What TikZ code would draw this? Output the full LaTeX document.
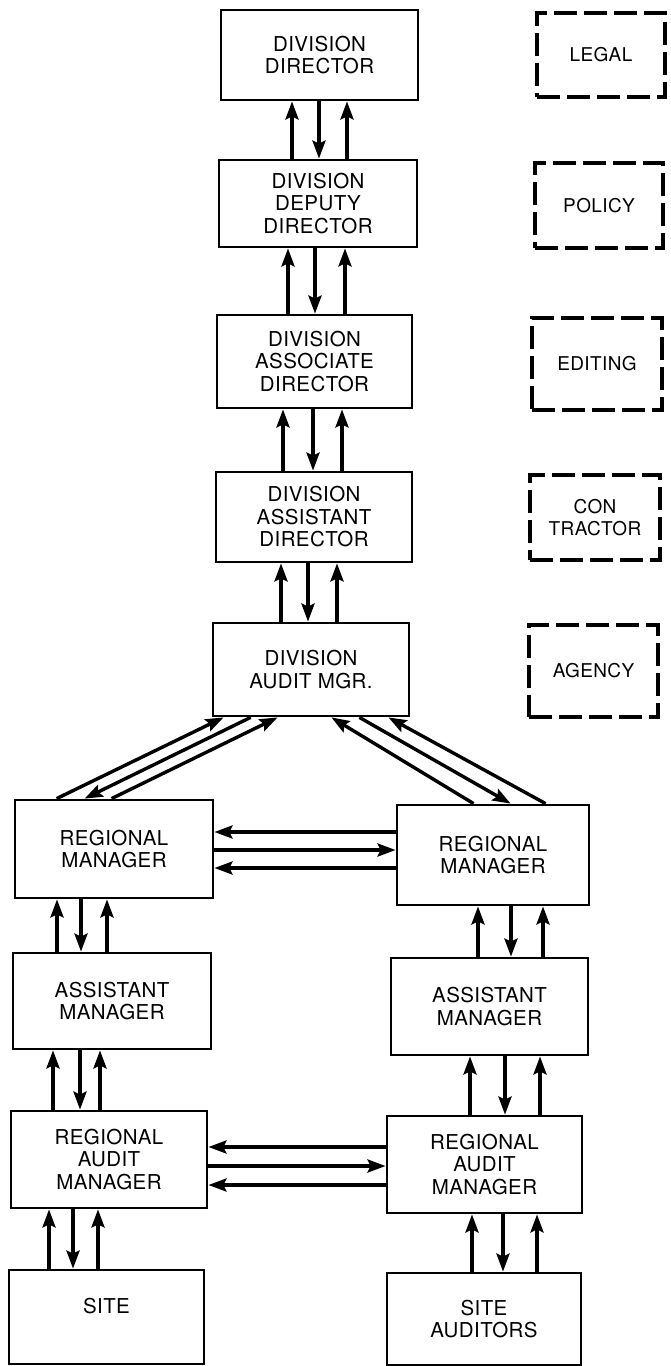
\documentclass[tikz,border=0pt]{standalone}
\usepackage{fontspec}
\setmainfont{TeX Gyre Heros}[LetterSpace=2]
\usetikzlibrary{arrows.meta,calc}
\newcommand\vtri[5]{%
  \draw[arr] ([xshift=#3pt]#1.south |- #2.north) -- ([xshift=#3pt]#1.south);
  \draw[arr] ([xshift=#4pt]#1.south) -- ([xshift=#4pt]#1.south |- #2.north);
  \draw[arr] ([xshift=#5pt]#1.south |- #2.north) -- ([xshift=#5pt]#1.south);}
\begin{document}
\begin{tikzpicture}[x=1pt,y=-1pt,
  box/.style={draw,line width=2.8pt,inner sep=0pt,align=center,
    font=\fontsize{20.5}{22.5}\selectfont},
  dbox/.style={draw,line width=3.6pt,dash pattern=on 23pt off 7pt,inner sep=0pt,
    align=center,font=\fontsize{19}{22}\selectfont},
  arr/.style={line width=3.4pt,-{Stealth[length=18pt,width=13pt,inset=3pt]}}]
\useasboundingbox (0,0) rectangle (670,1366);
% main column
\node[box,minimum width=197pt,minimum height=90pt] (dd)  at (319.5,55)   {DIVISION\\DIRECTOR};
\node[box,minimum width=198pt,minimum height=87pt] (dep) at (318,203.5)  {DIVISION\\DEPUTY\\DIRECTOR};
\node[box,minimum width=195pt,minimum height=93pt] (asc) at (314.5,361.5){DIVISION\\ASSOCIATE\\DIRECTOR};
\node[box,minimum width=196pt,minimum height=90pt] (ast) at (314,517)    {DIVISION\\ASSISTANT\\DIRECTOR};
\node[box,minimum width=196pt,minimum height=93pt] (am)  at (311,669.5)  {DIVISION\\AUDIT MGR.};
% left branch
\node[box,minimum width=198pt,minimum height=98pt] (lrm)  at (114,849)    {REGIONAL\\MANAGER};
\node[box,minimum width=198pt,minimum height=96pt] (lam)  at (112,1001)   {ASSISTANT\\MANAGER};
\node[box,minimum width=196pt,minimum height=97pt] (lram) at (109,1159.5) {REGIONAL\\AUDIT\\MANAGER};
\node[box,minimum width=195pt,minimum height=94pt] (site) at (106.5,1317) {SITE\\\phantom{X}};
% right branch
\node[box,minimum width=192pt,minimum height=100pt] (rrm)  at (493,855)    {REGIONAL\\MANAGER};
\node[box,minimum width=197pt,minimum height=97pt]  (ram)  at (489.5,1006.5){ASSISTANT\\MANAGER};
\node[box,minimum width=195pt,minimum height=97pt]  (rram) at (484.5,1164.5){REGIONAL\\AUDIT\\MANAGER};
\node[box,minimum width=194pt,minimum height=92pt]  (sa)   at (484,1319)   {SITE\\AUDITORS};
% dashed staff boxes
\node[dbox,minimum width=128pt,minimum height=84pt] (legal)  at (601,55)    {LEGAL};
\node[dbox,minimum width=128pt,minimum height=85pt] (policy) at (599,205.5) {POLICY};
\node[dbox,minimum width=130pt,minimum height=92pt] (edit)   at (597,364)   {EDITING};
\node[dbox,minimum width=130pt,minimum height=85pt] (contr)  at (595,517.5) {CON\\TRACTOR};
\node[dbox,minimum width=129pt,minimum height=92pt] (agency) at (593.5,671) {AGENCY};
% vertical arrow triples
\vtri{dd}{dep}{-27.5}{-0.5}{27.5}
\vtri{dep}{asc}{-30}{-3}{27}
\vtri{asc}{ast}{-31.5}{-1.5}{27.5}
\vtri{ast}{am}{-33}{-6}{23}
\vtri{lrm}{lam}{-57}{-33}{-7}
\vtri{lam}{lram}{-59}{-32}{-12}
\vtri{lram}{site}{-60}{-36}{-11}
\vtri{rrm}{ram}{-15}{18}{50}
\vtri{ram}{rram}{-19.5}{15.5}{50.5}
\vtri{rram}{sa}{-12.5}{18.5}{52.5}
% diagonal arrows
\draw[arr] ([xshift=43pt]lrm.north west) -- ([xshift=12pt]am.south west);
\draw[arr] ([xshift=39pt]am.south west) -- ([xshift=71pt]lrm.north west);
\draw[arr] ([xshift=98pt]lrm.north west) -- ([xshift=66pt]am.south west);
\draw[arr] ([xshift=78pt]rrm.north west) -- ([xshift=-79pt]am.south east);
\draw[arr] ([xshift=-51pt]am.south east) -- ([xshift=115pt]rrm.north west);
\draw[arr] ([xshift=150pt]rrm.north west) -- ([xshift=-22pt]am.south east);
% horizontal arrows
\draw[arr] ([yshift=17pt]lrm.east -| rrm.west) -- ([yshift=17pt]lrm.east);
\draw[arr] ([yshift=-1pt]lrm.east) -- ([yshift=-1pt]lrm.east -| rrm.west);
\draw[arr] ([yshift=-19pt]lrm.east -| rrm.west) -- ([yshift=-19pt]lrm.east);
\draw[arr] ([yshift=12.5pt]lram.east -| rram.west) -- ([yshift=12.5pt]lram.east);
\draw[arr] ([yshift=-6.5pt]lram.east) -- ([yshift=-6.5pt]lram.east -| rram.west);
\draw[arr] ([yshift=-25.5pt]lram.east -| rram.west) -- ([yshift=-25.5pt]lram.east);
\end{tikzpicture}
\end{document}
